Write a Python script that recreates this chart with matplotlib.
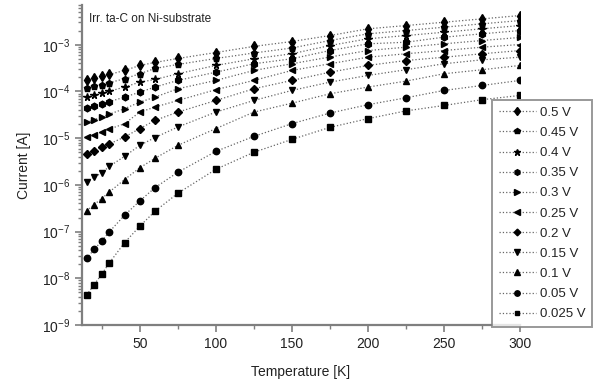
import matplotlib
matplotlib.use("Agg")
import matplotlib.pyplot as plt
from matplotlib.ticker import LogLocator, MultipleLocator, NullFormatter

plt.rcParams['font.family'] = ['Liberation Sans', 'DejaVu Sans']

temperature = [15, 20, 25, 30, 40, 50, 60, 75, 100, 125, 150, 175, 200, 225, 250, 275, 300]

voltages = ["0.5 V", "0.45 V", "0.4 V", "0.35 V", "0.3 V", "0.25 V",
            "0.2 V", "0.15 V", "0.1 V", "0.05 V", "0.025 V"]

i_050 = [1.72e-4, 1.90e-4, 2.09e-4, 2.31e-4, 2.81e-4, 3.60e-4, 4.17e-4, 5.07e-4, 6.8e-4,
         9.2e-4, 1.17e-3, 1.57e-3, 2.19e-3, 2.57e-3, 3.03e-3, 3.57e-3, 4.21e-3]
i_045 = [1.16e-4, 1.28e-4, 1.40e-4, 1.54e-4, 1.87e-4, 2.39e-4, 3.10e-4, 3.78e-4, 5.07e-4,
         6.65e-4, 8.5e-4, 1.23e-3, 1.71e-3, 2.01e-3, 2.37e-3, 2.80e-3, 3.29e-3]
i_040 = [7.45e-5, 8.2e-5, 9.1e-5, 1.01e-4, 1.24e-4, 1.58e-4, 1.80e-4, 2.39e-4, 3.60e-4,
         5.0e-4, 6.4e-4, 9.6e-4, 1.34e-3, 1.57e-3, 1.85e-3, 2.19e-3, 2.57e-3]
i_035 = [4.34e-5, 4.85e-5, 5.4e-5, 6.05e-5, 7.55e-5, 9.65e-5, 1.24e-4, 1.72e-4, 2.58e-4,
         3.91e-4, 5.0e-4, 7.5e-4, 1.045e-3, 1.13e-3, 1.45e-3, 1.71e-3, 2.01e-3]
i_030 = [2.18e-5, 2.48e-5, 2.85e-5, 3.26e-5, 4.27e-5, 5.9e-5, 7.55e-5, 1.14e-4, 1.72e-4,
         2.81e-4, 3.91e-4, 5.45e-4, 7.5e-4, 8.85e-4, 1.045e-3, 1.23e-3, 1.43e-3]
i_025 = [1.04e-5, 1.19e-5, 1.36e-5, 1.56e-5, 2.04e-5, 3.61e-5, 4.62e-5, 6.4e-5, 1.09e-4,
         1.72e-4, 2.81e-4, 3.91e-4, 5.4e-4, 6.4e-4, 7.5e-4, 8.85e-4, 1.01e-3]
i_020 = [4.51e-6, 5.36e-6, 6.35e-6, 7.5e-6, 1.06e-5, 1.60e-5, 2.40e-5, 3.61e-5, 6.4e-5,
         1.14e-4, 1.72e-4, 2.58e-4, 3.60e-4, 4.59e-4, 5.4e-4, 6.4e-4, 7.5e-4]
i_015 = [1.16e-6, 1.48e-6, 1.79e-6, 2.49e-6, 4.08e-6, 7.0e-6, 1.03e-5, 1.73e-5, 3.61e-5,
         6.4e-5, 1.05e-4, 1.58e-4, 2.20e-4, 2.91e-4, 3.91e-4, 4.75e-4, 5.4e-4]
i_010 = [2.77e-7, 3.79e-7, 5.1e-7, 7.05e-7, 1.30e-6, 2.32e-6, 3.70e-6, 7.0e-6, 1.60e-5,
         3.61e-5, 5.6e-5, 8.9e-5, 1.24e-4, 1.66e-4, 2.39e-4, 2.91e-4, 3.60e-4]
i_005 = [2.66e-8, 4.15e-8, 6.3e-8, 9.9e-8, 2.24e-7, 4.53e-7, 8.7e-7, 1.86e-6, 5.2e-6,
         1.09e-5, 2.04e-5, 3.44e-5, 5.2e-5, 7.3e-5, 1.05e-4, 1.34e-4, 1.72e-4]
i_0025 = [4.38e-9, 7.3e-9, 1.23e-8, 2.14e-8, 5.8e-8, 1.30e-7, 2.73e-7, 6.6e-7, 2.15e-6,
          4.98e-6, 9.4e-6, 1.70e-5, 2.61e-5, 3.83e-5, 5.0e-5, 6.65e-5, 8.2e-5]

series = [i_050, i_045, i_040, i_035, i_030, i_025, i_020, i_015, i_010, i_005, i_0025]
markers = ['d', 'p', '*', 'h', '>', '<', 'D', 'v', '^', 'o', 's']
msizes = [5.0, 4.8, 5.5, 4.8, 4.5, 4.5, 4.0, 4.5, 4.5, 4.6, 4.2]

fig = plt.figure(figsize=(5.93, 3.85), dpi=100)
ax = fig.add_axes([82/593, 1-325/385, (520-82)/593, (325-5)/385])

txt = '#222222'
axc = '#7f7f7f'
for v, y, m, ms in zip(voltages, series, markers, msizes):
    ax.plot(temperature, y, linestyle=':', color='#666666', linewidth=0.9,
            marker=m, markersize=ms, markerfacecolor='black', markeredgecolor='black',
            label=v)

ax.set_yscale('log')
ax.set_xlim(12, 300)
ax.set_ylim(1e-9, 10**-2.15)

ax.xaxis.set_major_locator(MultipleLocator(50))
ax.xaxis.set_minor_locator(MultipleLocator(25))
ax.yaxis.set_major_locator(LogLocator(base=10, numticks=20))
ax.yaxis.set_minor_locator(LogLocator(base=10, subs=range(2, 10), numticks=20))
ax.yaxis.set_minor_formatter(NullFormatter())

ax.spines['top'].set_visible(False)
ax.spines['right'].set_visible(False)
for s in ['left', 'bottom']:
    ax.spines[s].set_color(axc)
    ax.spines[s].set_linewidth(1.6)

ax.tick_params(axis='both', which='major', direction='out', length=5, width=1.2,
               color=axc, labelsize=10, labelcolor=txt)
ax.tick_params(axis='both', which='minor', direction='out', length=3, width=1.0, color=axc)

ax.set_xlabel('Temperature [K]', fontsize=10, color=txt, labelpad=10)
ax.set_ylabel('Current [A]', fontsize=10, color=txt, labelpad=8)

ax.text(0.015, 0.975, 'Irr. ta-C on Ni-substrate', transform=ax.transAxes,
        fontsize=8.5, color=txt, va='top', ha='left')

leg = fig.legend(loc='upper left', bbox_to_anchor=(492/593, 1-100/385),
                 fontsize=9.5, frameon=True, fancybox=False, labelspacing=0.6,
                 handlelength=2.8, handletextpad=0.3, borderpad=0.5,
                 borderaxespad=0.0, markerscale=0.85)
leg.get_frame().set_edgecolor(axc)
leg.get_frame().set_linewidth(1.4)
for t in leg.get_texts():
    t.set_color(txt)

fig.savefig('out.png', dpi=100)
